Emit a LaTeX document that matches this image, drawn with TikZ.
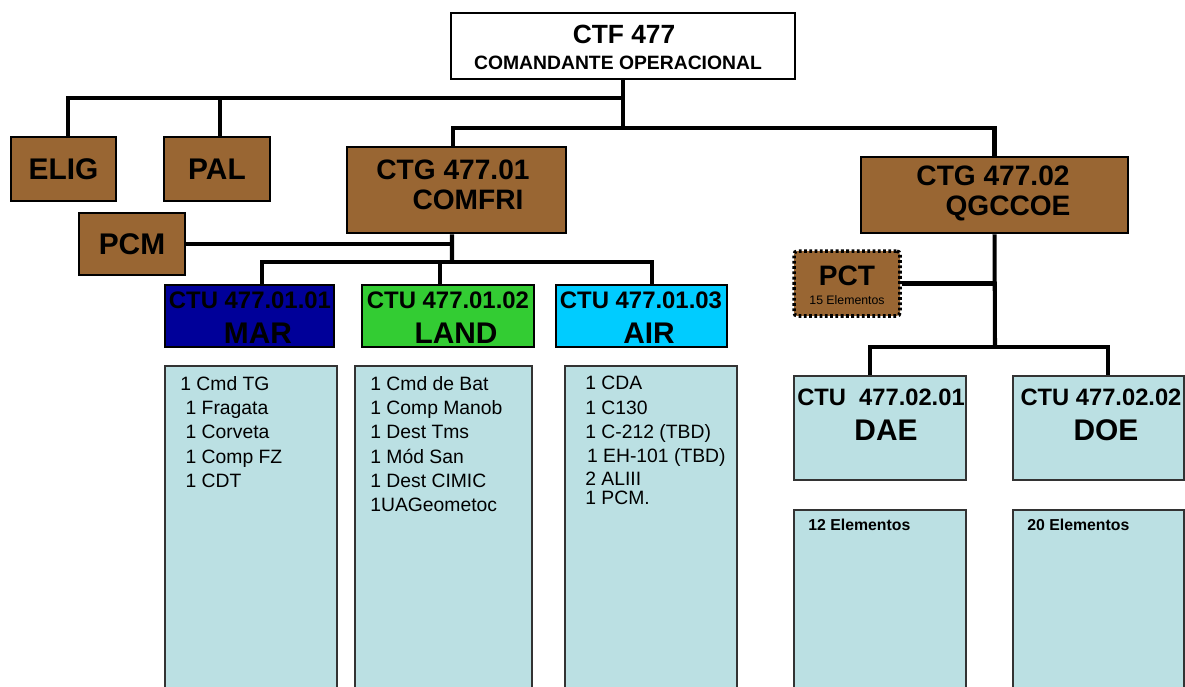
\documentclass[tikz,border=0pt]{standalone}
\usepackage{fontspec}
\setmainfont{Liberation Sans}
\definecolor{brownbox}{HTML}{996633}
\definecolor{marblue}{HTML}{000099}
\definecolor{landgreen}{HTML}{33CC33}
\definecolor{aircyan}{HTML}{00CCFF}
\definecolor{listblue}{HTML}{BBE0E3}
\definecolor{listedge}{HTML}{333333}
\begin{document}
\begin{tikzpicture}[x=0.02cm,y=-0.02cm,
  conn/.style={line width=2.3pt},
  topbox/.style={draw, line width=1.6pt, fill=white, minimum width=6.88cm, minimum height=1.32cm, inner sep=0pt},
  brownbox/.style={draw, line width=1.6pt, fill=brownbox, inner sep=0pt, font=\bfseries\fontsize{17}{20}\selectfont},
  unitbox/.style={draw, line width=1.4pt, minimum width=3.42cm, minimum height=1.24cm, inner sep=0pt},
  listbox/.style={draw=listedge, line width=1pt, fill=listblue, minimum width=3.44cm, inner sep=0pt},
  listtext/.style={anchor=north west, inner sep=0pt, align=left, font=\fontsize{11}{13.8}\selectfont},
  lbl/.style={inner sep=0pt}
]
\useasboundingbox (0,0) rectangle (1185,686);
\clip (0,0) rectangle (1185,686);

% top
\node[topbox] (ctf) at (623,46) {};
\node[lbl, font=\bfseries\fontsize{15}{18}\selectfont] (ctft) at (624,34) {CTF 477};
\node[lbl, font=\bfseries\fontsize{11}{13}\selectfont] (ctfs) at (618,63) {COMANDANTE OPERACIONAL};

% staff
\node[brownbox, minimum width=2.10cm, minimum height=1.28cm] (elig) at (63.5,169) {ELIG};
\node[brownbox, minimum width=2.12cm, minimum height=1.28cm] (pal) at (217,169) {PAL};
\node[brownbox, minimum width=2.12cm, minimum height=1.24cm] (pcm) at (132,244) {PCM};

% CTGs
\node[brownbox, minimum width=4.38cm, minimum height=1.72cm] (comfri) at (456.5,190) {};
\node[lbl, font=\bfseries\fontsize{16}{19}\selectfont] (comfria) at (453,170) {CTG 477.01};
\node[lbl, font=\bfseries\fontsize{16}{19}\selectfont] (comfrib) at (468,200) {COMFRI};

\node[brownbox, minimum width=5.34cm, minimum height=1.52cm] (qgccoe) at (994.5,195) {};
\node[lbl, font=\bfseries\fontsize{16}{19}\selectfont] (qga) at (993,176) {CTG 477.02};
\node[lbl, font=\bfseries\fontsize{16}{19}\selectfont] (qgb) at (1008,208) {QGCCOE};

\node[draw, line width=2pt, dash pattern=on 1.6pt off 1.4pt, rounded corners=2pt, fill=brownbox,
      minimum width=2.12cm, minimum height=1.30cm, inner sep=0pt] (pct) at (847,283.5) {};
\node[lbl, font=\bfseries\fontsize{16}{19}\selectfont] (pcta) at (847,276) {PCT};
\node[lbl, font=\fontsize{7}{8}\selectfont] (pctb) at (847,300) {15 Elementos};

% CTUs of COMFRI
\node[unitbox, fill=marblue, minimum width=3.38cm] (mar) at (249.5,316) {};
\node[unitbox, fill=landgreen, minimum width=3.44cm] (land) at (448,316) {};
\node[unitbox, fill=aircyan] (air) at (641.5,316) {};
\foreach \n/\x/\t/\u in {mar/250/CTU 477.01.01/MAR, land/448/CTU 477.01.02/LAND, air/641/CTU 477.01.03/AIR}{
  \node[lbl, font=\bfseries\fontsize{13.6}{16}\selectfont] (\n a) at (\x,300) {\t};
  \node[lbl, font=\bfseries\fontsize{17}{20}\selectfont] (\n b) at (\x+8,333) {\u};
}

% lists
\node[listbox, minimum height=6.9cm, anchor=north] (marlist) at (251,365) {};
\node[listbox, minimum width=3.54cm, minimum height=6.9cm, anchor=north] (landlist) at (443.5,365) {};
\node[listbox, minimum height=6.9cm, anchor=north] (airlist) at (651,365) {};

\node[listtext] (martext) at (180,376) {1 Cmd TG\\\hspace{3pt}1 Fragata\\\hspace{3pt}1 Corveta\\\hspace{3pt}1 Comp FZ\\\hspace{3pt}1 CDT};
\node[listtext] (landtext) at (370,376) {1 Cmd de Bat\\1 Comp Manob\\1 Dest Tms\\1 Mód San\\1 Dest CIMIC\\1UAGeometoc};
\node[listtext] (airtext) at (585,376) {1 CDA\\1 C130\\1 C-212 (TBD)\\\hspace{1pt}1 EH-101 (TBD)\\[-1pt]2 ALIII\\[-3pt]1 PCM.};

% CTUs of QGCCOE
\node[listbox, line width=1.2pt, minimum height=2.08cm] (dae) at (880,428) {};
\node[listbox, line width=1.2pt, minimum width=3.42cm, minimum height=2.08cm] (doe) at (1098.5,428) {};
\node[lbl, font=\bfseries\fontsize{13.5}{16}\selectfont] (daea) at (881,397) {CTU\ \ 477.02.01};
\node[lbl, font=\bfseries\fontsize{17}{20}\selectfont] (daeb) at (886,430) {DAE};
\node[lbl, font=\bfseries\fontsize{13.5}{16}\selectfont] (doea) at (1101,397) {CTU 477.02.02};
\node[lbl, font=\bfseries\fontsize{17}{20}\selectfont] (doeb) at (1106,430) {DOE};

\node[listbox, minimum height=3.9cm, anchor=north] (daelist) at (880,509) {};
\node[listbox, minimum width=3.42cm, minimum height=3.9cm, anchor=north] (doelist) at (1098.5,509) {};
\node[lbl, anchor=west, font=\bfseries\fontsize{9}{11}\selectfont] (daet) at (808,525) {12 Elementos};
\node[lbl, anchor=west, font=\bfseries\fontsize{9}{11}\selectfont] (doet) at (1027,525) {20 Elementos};

% connectors
\coordinate (j1) at (623,98);
\coordinate (j2) at (623,128);
\coordinate (j3) at (452,262);
\coordinate (j4) at (995,347);
\draw[conn] (ctf.south) -- (j2);
\draw[conn] (j1) -| ([xshift=0.09cm]elig.north);
\draw[conn] (j1) -| ([xshift=0.06cm]pal.north);
\draw[conn] (j2) -| ([xshift=-0.07cm]comfri.north);
\draw[conn] (j2) -| (qgccoe.north);
\draw[conn] ([xshift=-0.09cm]comfri.south) -- (j3);
\draw[conn] (pcm.east) -- (pcm.east -| j3);
\draw[conn] (j3) -| ([xshift=0.25cm]mar.north);
\draw[conn] (j3) -| ([xshift=-0.16cm]land.north);
\draw[conn] (j3) -| ([xshift=0.21cm]air.north);
\draw[conn] (qgccoe.south) -- (j4);
\draw[conn] (pct.east) -- (pct.east -| qgccoe.south);
\draw[conn] (j4) -| ([xshift=-0.2cm]dae.north);
\draw[conn] (j4) -| ([xshift=0.19cm]doe.north);
\end{tikzpicture}
\end{document}
